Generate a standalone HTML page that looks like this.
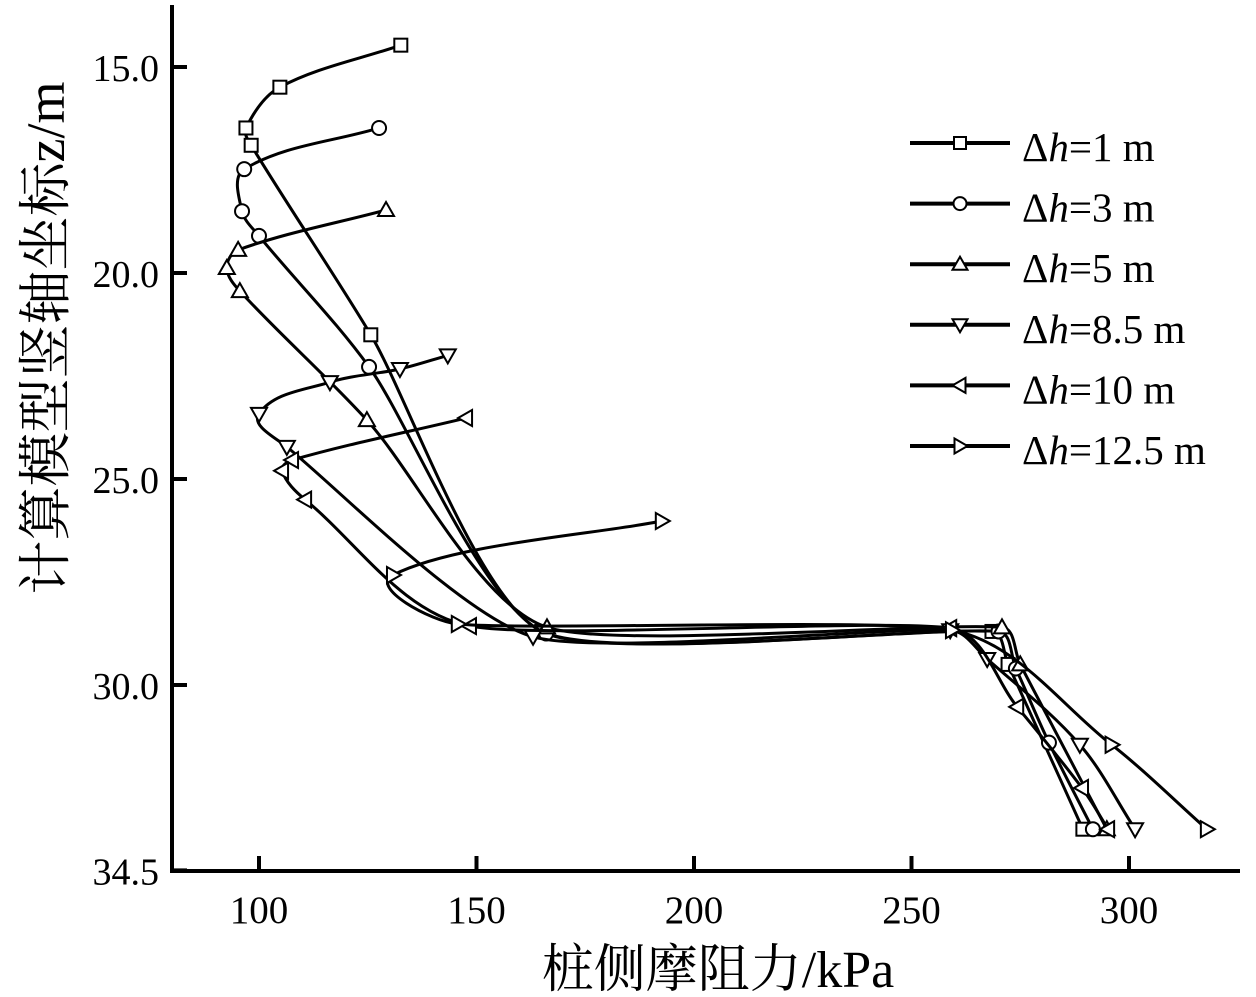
<!DOCTYPE html>
<html><head><meta charset="utf-8"><style>
body{margin:0;background:#fff}
svg{display:block}
text{font-family:"Liberation Serif","Noto Serif CJK SC",serif;fill:#000}
</style></head><body>
<svg id="chart" width="1256" height="997" viewBox="0 0 1256 997"></svg>
<script>
const xTicks=[100,150,200,250,300];
const yTicks=[15.0,20.0,25.0,30.0,34.5];
const seriesNames=["1","3","5","8.5","10","12.5"];
const seriesMarkers=["square","circle","up","down","left","right"];
const s1x=[132.6,104.8,97,98.2,125.7,165,268.5,272.2,289.4];
const s1y=[14.47,15.49,16.48,16.9,21.5,28.7,28.7,29.5,33.5];
const s2x=[127.6,96.6,96.1,100,125.3,166,270,274,281.6,291.7];
const s2y=[16.48,17.48,18.5,19.1,22.28,28.75,28.7,29.6,31.4,33.5];
const s3x=[129.2,95.2,92.6,95.6,124.8,166.2,270.8,275,294.9];
const s3y=[18.47,19.44,19.88,20.44,23.57,28.6,28.6,29.5,33.5];
const s4x=[143.4,132.4,116.3,100,106.4,163,258.9,267.4,288.7,301.4];
const s4y=[22.0,22.33,22.65,23.42,24.22,28.83,28.67,29.37,31.45,33.5];
const s5x=[147.6,107.6,105.3,110.6,148.5,258.9,274.3,289.2,295.2];
const s5y=[23.52,24.54,24.8,25.5,28.57,28.62,30.53,32.5,33.5];
const s6x=[192.6,130.8,145.7,259.3,296,317.9];
const s6y=[26.02,27.33,28.52,28.67,31.45,33.5];
const allX=[s1x,s2x,s3x,s4x,s5x,s6x], allY=[s1y,s2y,s3y,s4y,s5y,s6y];

const NS="http://www.w3.org/2000/svg";
const svg=document.getElementById('chart');
const X=v=>259+(v-100)*4.35;
const Y=v=>67+(v-15)*41.2;
function mk(tag,attrs,parent){const e=document.createElementNS(NS,tag);for(const k in attrs)e.setAttribute(k,attrs[k]);(parent||svg).appendChild(e);return e;}

let ax=mk('path',{d:'M172,5 V871 H1240',fill:'none',stroke:'#000','stroke-width':4});


xTicks.forEach(v=>{
  const t=mk('line',{x1:X(v),x2:X(v),y1:871,y2:856,stroke:'#000','stroke-width':4});
  
  
  const l=mk('text',{x:X(v),y:923,'text-anchor':'middle','font-size':39});
  l.textContent=v;
  
  
});
yTicks.forEach(v=>{
  const t=mk('line',{x1:172,x2:187,y1:Y(v),y2:Y(v),stroke:'#000','stroke-width':4});
  
  
  const l=mk('text',{x:159,y:Y(v)+14,'text-anchor':'end','font-size':38});
  l.textContent=v.toFixed(1);
  
  
});
const xl=mk('text',{x:718,y:987,'text-anchor':'middle','font-size':52});
xl.textContent='桩侧摩阻力/kPa';


const yl=mk('text',{x:0,y:0,'text-anchor':'middle','font-size':54,transform:'translate(64,338) rotate(-90)'});
yl.textContent='计算模型竖轴坐标z/m';



function marker(type,cx,cy,g,r){
  r=r||7;
  const st={fill:'#fff',stroke:'#000','stroke-width':2};
  let e;
  if(type==='square')e=mk('rect',Object.assign({x:cx-r+0.5,y:cy-r+0.5,width:2*r-1,height:2*r-1},st),g);
  else if(type==='circle')e=mk('circle',Object.assign({cx:cx,cy:cy,r:r},st),g);
  else{
    let p;
    if(type==='up')p=[[cx,cy-r-1],[cx-r-1,cy+r-1],[cx+r+1,cy+r-1]];
    if(type==='down')p=[[cx,cy+r+1],[cx-r-1,cy-r+1],[cx+r+1,cy-r+1]];
    if(type==='left')p=[[cx-r-1,cy],[cx+r-1,cy-r-1],[cx+r-1,cy+r+1]];
    if(type==='right')p=[[cx+r+1,cy],[cx-r+1,cy-r-1],[cx-r+1,cy+r+1]];
    e=mk('polygon',Object.assign({points:p.map(q=>q.join(',')).join(' ')},st),g);
  }
  
  
}
function tangent(pts,i){
  const a=pts[Math.max(i-1,0)],b=pts[Math.min(i+1,pts.length-1)];
  const dx=b[0]-a[0],dy=b[1]-a[1],L=Math.hypot(dx,dy)||1;
  return [dx/L,dy/L];
}
function spline(pts){
  let d='M'+pts[0][0]+','+pts[0][1];
  for(let i=0;i<pts.length-1;i++){
    const p1=pts[i],p2=pts[i+1];
    const len=Math.hypot(p2[0]-p1[0],p2[1]-p1[1]);
    const L=Math.min(len/3,70);
    const t1=tangent(pts,i),t2=tangent(pts,i+1);
    const c1=[p1[0]+t1[0]*L,p1[1]+t1[1]*L];
    const c2=[p2[0]-t2[0]*L,p2[1]-t2[1]*L];
    d+=' C'+c1.join(',')+' '+c2.join(',')+' '+p2.join(',');
  }
  return d;
}
allX.forEach((xs,si)=>{
  const g=mk('g',{});
  
  
  const pts=xs.map((v,i)=>[X(v),Y(allY[si][i])]);
  const path=mk('path',{d:spline(pts),fill:'none',stroke:'#000','stroke-width':3},g);
  
  
  pts.forEach(p=>marker(seriesMarkers[si],p[0],p[1],g));
});
seriesNames.forEach((n,i)=>{
  const y=143+i*60.6;
  const g=mk('g',{});
  
  
  mk('line',{x1:910,x2:1010,y1:y,y2:y,stroke:'#000','stroke-width':4},g);
  marker(seriesMarkers[i],960,y,g,6.5);
  const t=mk('text',{x:1022,y:y+18,'font-size':41},g);
  t.innerHTML='Δ<tspan font-style="italic">h</tspan>='+n+' m';
});
</script>
</body></html>
